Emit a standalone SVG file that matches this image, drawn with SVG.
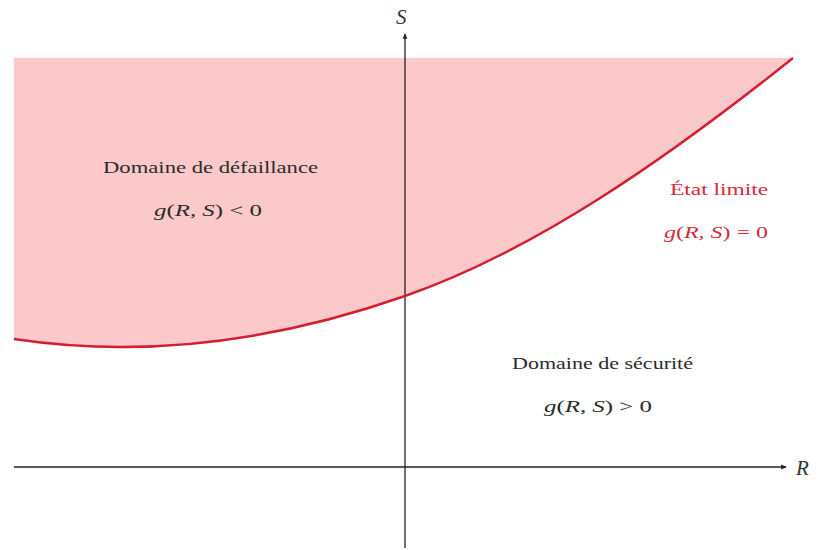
<svg xmlns="http://www.w3.org/2000/svg" width="824" height="550" viewBox="0 0 824 550">
  <style>
    .lbl { font-family: "Liberation Serif", "DejaVu Serif", serif; font-size: 16px; fill: #2b2b2b; }
    .red { fill: #d42a3a; }
    .it { font-style: italic; }
    .axis { stroke: #222; stroke-width: 1.3; fill: none; }
    .ax { font-family: "Liberation Serif", "DejaVu Serif", serif; font-style: italic; font-size: 21px; fill: #333; }
  </style>
  <defs>
    <marker id="arr" viewBox="0 0 10 10" refX="8" refY="5" markerWidth="6" markerHeight="6" orient="auto" markerUnits="userSpaceOnUse">
      <path d="M0,1 L9,5 L0,9 Z" fill="#222"/>
    </marker>
  </defs>
  <rect width="824" height="550" fill="#ffffff"/>

  <g id="failure-region">
    <path d="M14,339 C144,358.5 275,341.5 405,296 C534,251 664,161 793,58 L14,58 Z" fill="#fcc9ca"/>
  </g>

  <g id="connectors">
    <line class="axis" x1="14" y1="467" x2="786" y2="467" marker-end="url(#arr)"/>
    <line class="axis" x1="405" y1="548" x2="405" y2="34" marker-end="url(#arr)"/>
  </g>

  <g id="limit-curve">
    <path d="M14,339 C144,358.5 275,341.5 405,296 C534,251 664,161 793,58" fill="none" stroke="#d41e2e" stroke-width="2.4"/>
  </g>

  <g id="axis-labels">
    <text class="ax" x="396" y="24">S</text>
    <text class="ax" x="796" y="475">R</text>
  </g>

  <g id="domaine-defaillance">
    <text class="lbl" x="103" y="173" textLength="215" lengthAdjust="spacingAndGlyphs">Domaine de défaillance</text>
    <text class="lbl" x="154" y="216" textLength="108" lengthAdjust="spacingAndGlyphs"><tspan class="it">g</tspan>(<tspan class="it">R, S</tspan>) &lt; 0</text>
  </g>

  <g id="domaine-securite">
    <text class="lbl" x="512" y="369" textLength="181" lengthAdjust="spacingAndGlyphs">Domaine de sécurité</text>
    <text class="lbl" x="544" y="412" textLength="108" lengthAdjust="spacingAndGlyphs"><tspan class="it">g</tspan>(<tspan class="it">R, S</tspan>) &gt; 0</text>
  </g>

  <g id="etat-limite">
    <text class="lbl red" x="670" y="195" textLength="98" lengthAdjust="spacingAndGlyphs">État limite</text>
    <text class="lbl red" x="664" y="238" textLength="104" lengthAdjust="spacingAndGlyphs"><tspan class="it">g</tspan>(<tspan class="it">R, S</tspan>) = 0</text>
  </g>
</svg>
